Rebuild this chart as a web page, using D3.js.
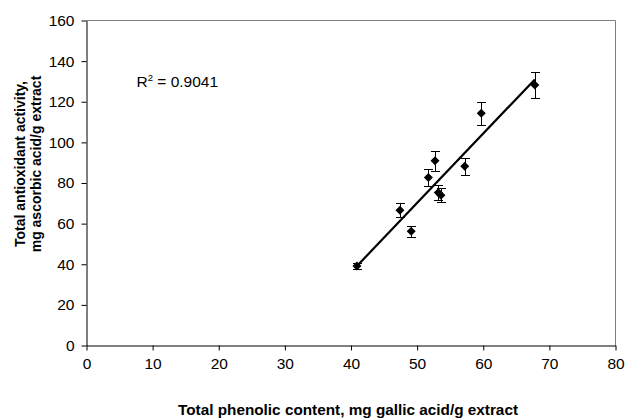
<!DOCTYPE html>
<html>
<head>
<meta charset="utf-8">
<script src="https://cdn.jsdelivr.net/npm/d3@7"></script>
<style>
  html, body { margin: 0; padding: 0; background: #fff; }
  svg { display: block; font-family: Arial, "Liberation Sans", sans-serif; }
</style>
</head>
<body>
<svg id="chart" width="625" height="420"></svg>
<script>
// Data
const phenolic    = [40.9, 47.4, 49.1, 51.7, 52.7, 53.2, 53.6, 57.2, 59.7, 67.8];
const antioxidant = [39.2, 66.6, 56.2, 82.7, 90.9, 75.3, 74.0, 88.3, 114.3, 128.3];
const errorBars   = [1.5, 3.5, 2.8, 4.1, 5.0, 3.9, 3.4, 4.2, 5.5, 6.3];
const xTicks = [0, 10, 20, 30, 40, 50, 60, 70, 80];
const yTicks = [0, 20, 40, 60, 80, 100, 120, 140, 160];
const r2Label = "0.9041";
const xTitle = "Total phenolic content, mg gallic acid/g extract";
const yTitleLines = ["Total antioxidant activity,", "mg ascorbic acid/g extract"];

const svg = d3.select("#chart");
const x = d3.scaleLinear().domain([0, 80]).range([86.5, 615.5]);
const y = d3.scaleLinear().domain([0, 160]).range([345.5, 20.5]);

// plot area border (top/right gray)
svg.append("path")
  .attr("d", `M${x(0)},${y(160)}H${x(80)}V${y(0)}`)
  .attr("fill", "none").attr("stroke", "#808080").attr("stroke-width", 1);

// axes
const xAxis = svg.append("g").attr("transform", `translate(0,${y(0)})`)
  .call(d3.axisBottom(x).tickValues(xTicks).tickSize(5).tickPadding(7).tickSizeOuter(0));
const yAxis = svg.append("g").attr("transform", `translate(${x(0)},0)`)
  .call(d3.axisLeft(y).tickValues(yTicks).tickSize(5).tickPadding(7).tickSizeOuter(0));
[xAxis, yAxis].forEach(g => {
  g.selectAll("path.domain").attr("stroke", "#000");
  g.selectAll(".tick line").attr("stroke", "#000");
  g.selectAll(".tick text").attr("fill", "#000")
    .style("font-family", "Arial, 'Liberation Sans', sans-serif").style("font-size", "15.5px");
});

// data
const pts = phenolic.map((v, i) => ({ x: v, y: antioxidant[i], e: errorBars[i] }));

// trendline (least squares from data)
const mx = d3.mean(pts, d => d.x), my = d3.mean(pts, d => d.y);
const slope = d3.sum(pts, d => (d.x - mx) * (d.y - my)) / d3.sum(pts, d => (d.x - mx) ** 2);
const icpt = my - slope * mx;
const [x0, x1] = d3.extent(pts, d => d.x);
svg.append("line")
  .attr("x1", x(x0)).attr("y1", y(icpt + slope * x0))
  .attr("x2", x(x1)).attr("y2", y(icpt + slope * x1))
  .attr("stroke", "#000").attr("stroke-width", 2.2);

// error bars
const eb = svg.append("g").attr("stroke", "#000").attr("stroke-width", 1).attr("fill", "none");
pts.forEach(d => {
  const cx = Math.round(x(d.x)) + 0.5;
  const yt = Math.round(y(d.y + d.e)) + 0.5, yb = Math.round(y(d.y - d.e)) + 0.5;
  eb.append("path").attr("d", `M${cx},${yt}V${yb}M${cx - 4.5},${yt}H${cx + 4.5}M${cx - 4.5},${yb}H${cx + 4.5}`);
});

// diamond markers
svg.append("g").selectAll("path").data(pts).join("path")
  .attr("transform", d => `translate(${x(d.x)},${y(d.y)})`)
  .attr("d", "M0,-4.5L4.5,0L0,4.5L-4.5,0Z")
  .attr("fill", "#000");

// R² annotation
const rt = svg.append("text").attr("x", 136.5).attr("y", 87).attr("fill", "#000")
  .style("font-size", "15.5px");
rt.append("tspan").text("R");
rt.append("tspan").attr("dy", -6).style("font-size", "9.5px").text("2");
rt.append("tspan").attr("dy", 6).text(" = " + r2Label);

// axis titles
svg.append("text").attr("x", 348).attr("y", 415).attr("text-anchor", "middle")
  .attr("fill", "#000").style("font-size", "14.5px").style("font-weight", "bold")
  .attr("textLength", 340).attr("lengthAdjust", "spacingAndGlyphs").text(xTitle);
yTitleLines.forEach((t, i) => {
  svg.append("text").attr("transform", `translate(${24.5 + i * 16.5},164) rotate(-90)`)
    .attr("text-anchor", "middle").attr("fill", "#000")
    .style("font-size", "14px").style("font-weight", "bold").text(t);
});
</script>
</body>
</html>
